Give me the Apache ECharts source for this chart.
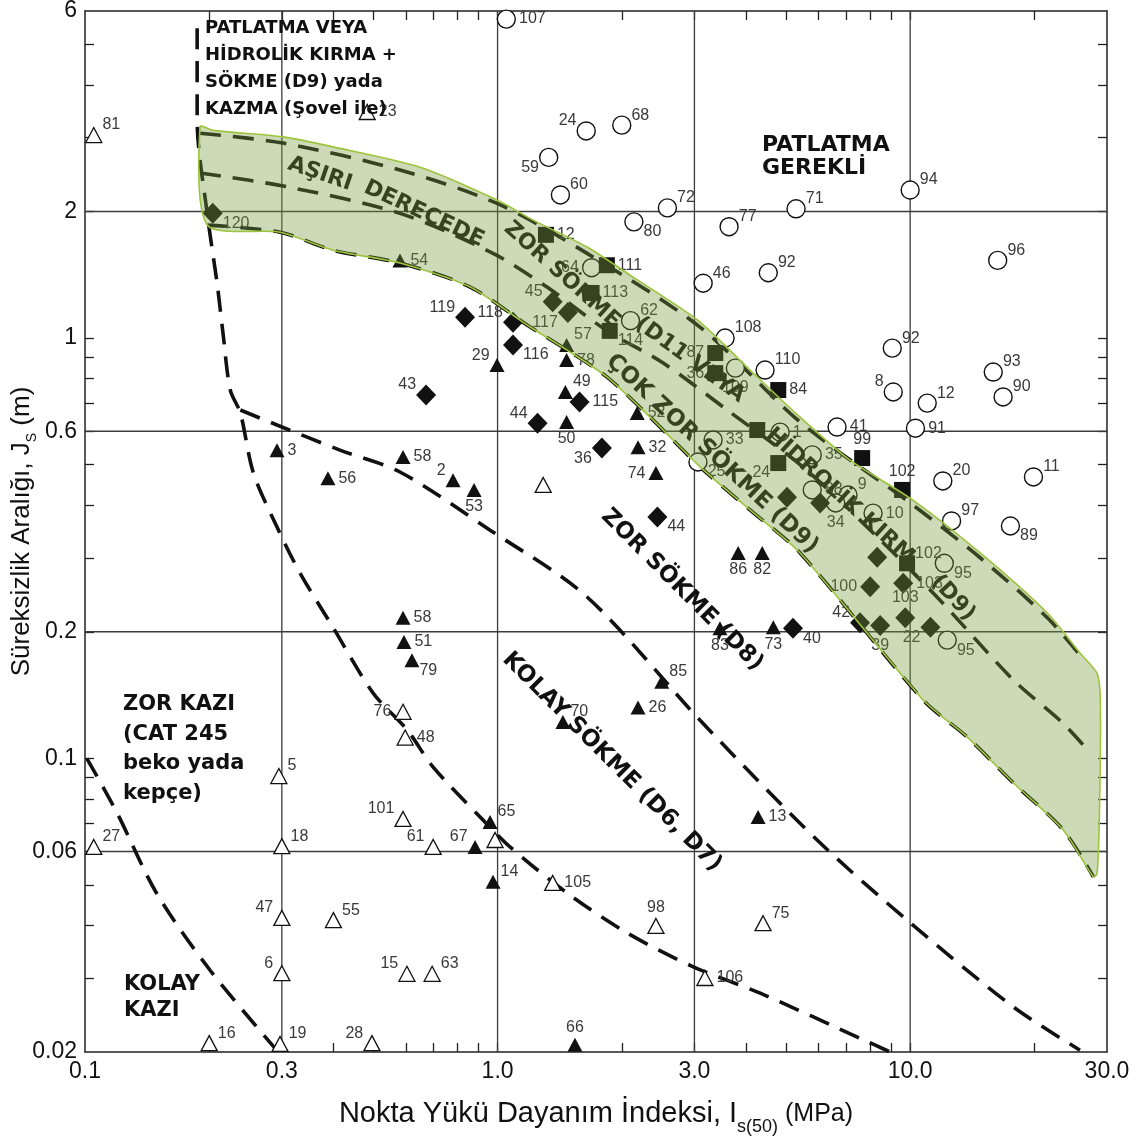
<!DOCTYPE html>
<html>
<head>
<meta charset="utf-8">
<script src="https://cdn.jsdelivr.net/npm/echarts@6/dist/echarts.min.js"></script>
<style>
html,body{margin:0;padding:0;background:#fff;}
#chart{width:1147px;height:1148px;}
</style>
</head>
<body>
<div id="chart"></div>
<script>
// ---- axes -------------------------------------------------------------
const xRange = [0.1, 30];
const yRange = [0.02, 6];
const xLabelValues = [0.1, 0.3, 1, 3, 10, 30];
const xLabelTexts  = ['0.1', '0.3', '1.0', '3.0', '10.0', '30.0'];
const yLabelValues = [0.02, 0.06, 0.1, 0.2, 0.6, 1, 2, 6];
const yLabelTexts  = ['0.02', '0.06', '0.1', '0.2', '0.6', '1', '2', '6'];
const xTickValues = [0.2, 0.3, 0.4, 0.5, 0.6, 0.7, 0.8, 0.9, 1, 2, 3, 4, 5, 6, 7, 8, 9, 10, 20];
const yTickValues = [0.03, 0.04, 0.05, 0.06, 0.07, 0.08, 0.09, 0.1, 0.2, 0.3, 0.4, 0.5, 0.6, 0.7, 0.8, 0.9, 1, 2, 3, 4, 5];
const xGridValues = [0.3, 1, 3, 10];
const yGridValues = [0.06, 0.2, 0.6, 2];

// ---- boundary curves [Is(50), Js] --------------------------------------
const curveSteep = [[0.187,5.46],[0.187,3.30],[0.198,1.96],[0.209,1.351],[0.216,1.027],[0.225,0.752],[0.238,0.663],[0.256,0.477],[0.292,0.355],[0.332,0.276],[0.399,0.205],[0.499,0.143],[0.603,0.117],[0.698,0.0953],[0.922,0.0713],[1.072,0.0615],[1.474,0.0478],[2.06,0.0384],[2.98,0.0319],[4.33,0.0276],[7.69,0.0214],[8.94,0.02]];
const curveD8 = [[0.238,0.674],[0.292,0.621],[0.415,0.541],[0.580,0.480],[0.959,0.349],[1.648,0.242],[3.10,0.123],[5.95,0.0639],[10,0.0406],[17.8,0.0256],[25.8,0.0202]];
const curveDigging = [[0.101,0.1],[0.1196,0.0741],[0.149,0.0478],[0.201,0.0313],[0.294,0.02]];
const curveD9Lower = [[0.198,1.856],[0.297,1.786],[0.399,1.618],[0.580,1.508],[0.858,1.322],[1.199,1.062],[1.474,0.936],[1.843,0.807],[2.343,0.648],[3.10,0.493],[4.09,0.390],[5.41,0.308],[10.75,0.1376],[13.75,0.1123],[17.8,0.0873],[23.5,0.0675],[27.8,0.0522]];
const curveD11 = [[0.190,2.47],[0.309,2.29],[0.580,1.98],[0.975,1.59],[1.32,1.32],[1.843,1.04],[2.52,0.872],[3.60,0.674],[5.50,0.493],[8.46,0.331],[11.8,0.238],[17.8,0.1535],[23.5,0.121],[27.3,0.103]];
const curveBlast = [[0.190,3.07],[0.302,2.91],[0.580,2.51],[0.997,2.09],[1.648,1.59],[3.10,1.06],[5.41,0.631],[10.17,0.40],[14.78,0.30],[21.5,0.216],[25.8,0.176]];
const bandUpper = [[0.190,3.18],[0.204,3.12],[0.302,3.01],[0.399,2.85],[0.649,2.55],[0.997,2.13],[1.219,1.908],[1.648,1.646],[2.13,1.396],[3.05,1.104],[4.09,0.839],[5.41,0.648],[7.15,0.512],[10.17,0.411],[14.78,0.308],[21.5,0.2216],[25.8,0.178],[28.4,0.159],[28.9,0.1376],[28.8,0.0796],[28.4,0.0533]];

// ---- observations -----------------------------------------------------
// open circles
const circleId = ['107','24','68','59','60','72','80','77','71','94','96','46','92','64','108','110','109','92','93','90','8','12','91','41','1','33','25','35','88','9','10','34','20','11','97','89','95','95','62'];
const circleI  = [1.05,1.64,2.0,1.33,1.42,2.58,2.14,3.64,5.29,10.0,16.3,3.15,4.53,1.69,3.56,4.45,3.77,9.05,15.9,16.8,9.1,11.0,10.3,6.65,4.84,3.33,3.06,5.79,5.79,7.07,8.13,6.6,12.0,19.9,12.6,17.5,12.1,12.3,2.10];
const circleJ  = [5.74,3.11,3.21,2.69,2.19,2.04,1.89,1.84,2.03,2.25,1.53,1.35,1.43,1.47,1.00,0.839,0.848,0.946,0.83,0.724,0.744,0.70,0.61,0.614,0.597,0.572,0.507,0.527,0.435,0.423,0.383,0.405,0.457,0.467,0.367,0.357,0.291,0.191,1.10];
// filled squares
const squareId = ['12','111','113','114','87','36','84','','24','99','102','102'];
const squareI  = [1.31,1.84,1.69,1.87,3.37,3.37,4.79,4.26,4.79,7.65,9.56,9.83];
const squareJ  = [1.76,1.49,1.28,1.04,0.921,0.825,0.752,0.604,0.504,0.518,0.435,0.291];
// filled diamonds
const diamondId = ['120','119','118','116','45','117','43','44','115','36','44','40','','','','100','103','42','39','103','22'];
const diamondI  = [0.204,0.834,1.09,1.09,1.36,1.48,0.671,1.25,1.58,1.79,2.44,5.2,5.03,6.05,8.32,8.0,9.62,7.56,8.46,9.73,11.2];
const diamondJ  = [1.98,1.12,1.09,0.962,1.22,1.15,0.732,0.627,0.704,0.547,0.375,0.204,0.418,0.405,0.301,0.256,0.261,0.21,0.207,0.216,0.205];
// filled triangles
const triId = ['54','3','56','58','2','53','29','57','78','49','50','52','32','74','86','82','83','73','58','51','79','85','26','70','13','65','67','14','66'];
const triI  = [0.58,0.292,0.388,0.59,0.78,0.877,0.997,1.47,1.47,1.46,1.47,2.18,2.19,2.42,3.83,4.38,3.46,4.66,0.59,0.593,0.62,2.5,2.19,1.44,4.28,0.959,0.882,0.975,1.54];
const triJ  = [1.53,0.541,0.464,0.521,0.459,0.435,0.862,0.962,0.886,0.744,0.631,0.663,0.55,0.477,0.308,0.308,0.204,0.205,0.216,0.189,0.171,0.152,0.132,0.122,0.0725,0.0705,0.0615,0.0508,0.0208];
// open triangles
const openTriId = ['81','23','','76','48','5','101','27','18','61','','105','47','55','98','75','6','15','63','106','16','19','28'];
const openTriI  = [0.105,0.483,1.29,0.59,0.597,0.295,0.59,0.105,0.30,0.698,0.986,1.36,0.30,0.40,2.42,4.40,0.30,0.603,0.694,3.18,0.20,0.297,0.496];
const openTriJ  = [3.04,3.45,0.447,0.129,0.112,0.0907,0.0717,0.0615,0.0618,0.0615,0.0639,0.0505,0.0417,0.0412,0.0399,0.0405,0.0308,0.0307,0.0307,0.030,0.021,0.0209,0.021];

// where each number sits next to its symbol
const circleLabelAt  = ['r','tl','tr','bl','tr','tr','br','tr','tr','tr','tr','tr','tr','l','tr','tr','b','tr','tr','tr','tl','tr','r','r','r','r','br','r','r','tr','r','b','tr','tr','tr','br','br','br','tr'];
const squareLabelAt  = ['r','r','r','br','l','l','r','-','bl','t','t','tr'];
const diamondLabelAt = ['br','tl','tl','br','tl','bl','tl','tl','r','bl','br','br','-','-','-','l','r','tl','b','t','bl'];
const triLabelAt     = ['r','r','r','r','tl','b','tl','tr','r','tr','b','r','r','l','b','b','b','b','r','r','br','tr','r','tr','r','tr','tl','tr','t'];
const openTriLabelAt = ['tr','r','-','l','r','tr','tl','tr','tr','tl','-','r','tl','tr','t','tr','tl','tl','tr','r','tr','tr','tl'];

// ---- helpers ----------------------------------------------------------
const lg = v => Math.log10(v);
const toLog = arr => arr.map(p => [lg(p[0]), lg(p[1])]);

function labelFor(side) {
  const base = { show: true, formatter: '{b}', fontSize: 16, color: '#3a3a3a', fontFamily: 'Liberation Sans, Arial, sans-serif' };
  switch (side) {
    case 'r':  return Object.assign(base, { position: 'right', distance: 3 });
    case 'l':  return Object.assign(base, { position: 'left', distance: 3 });
    case 't':  return Object.assign(base, { position: 'top', distance: 2 });
    case 'b':  return Object.assign(base, { position: 'bottom', distance: 2 });
    case 'tr': return Object.assign(base, { position: 'right', distance: 0, offset: [0, -10] });
    case 'tl': return Object.assign(base, { position: 'left', distance: 0, offset: [0, -10] });
    case 'br': return Object.assign(base, { position: 'right', distance: 0, offset: [0, 10] });
    case 'bl': return Object.assign(base, { position: 'left', distance: 0, offset: [0, 10] });
    default:   return { show: false };
  }
}

function pointData(ids, xs, ys, sides) {
  return ids.map((id, i) => ({ name: id, value: [lg(xs[i]), lg(ys[i])], label: labelFor(sides[i]) }));
}

function dashed(data) {
  return {
    type: 'line', data: toLog(data), symbol: 'none', smooth: 0.3, silent: true, z: 2,
    lineStyle: { color: '#111', width: 3.6, type: [21, 12] }
  };
}

function pickLabel(values, texts) {
  return v => {
    for (let i = 0; i < values.length; i++) if (Math.abs(lg(values[i]) - v) < 1e-6) return texts[i];
    return '';
  };
}

// ---- grid lines -------------------------------------------------------
const gridSeries = [];
xGridValues.forEach(v => gridSeries.push({
  type: 'line', data: [[lg(v), lg(yRange[0])], [lg(v), lg(yRange[1])]], symbol: 'none', silent: true, z: 1,
  lineStyle: { color: '#3c3c3c', width: 1.3 }
}));
yGridValues.forEach(v => gridSeries.push({
  type: 'line', data: [[lg(xRange[0]), lg(v)], [lg(xRange[1]), lg(v)]], symbol: 'none', silent: true, z: 1,
  lineStyle: { color: '#3c3c3c', width: 1.3 }
}));

// ---- ripping band (translucent green laid over the marks) ---------------
const bandPolygon = bandUpper.concat(curveD9Lower.slice().reverse());

const tickStyle = { show: true, inside: true, length: 9, lineStyle: { color: '#222', width: 1.3 } };
const axisFont = { fontSize: 23, color: '#111', fontFamily: 'Liberation Sans, Arial, sans-serif' };
const frameLine = { show: true, onZero: false, lineStyle: { color: '#222', width: 1.5 } };

const xAxisBase = {
  type: 'value', min: lg(xRange[0]), max: lg(xRange[1]),
  splitLine: { show: false },
  axisLine: frameLine,
  axisTick: Object.assign({ customValues: xTickValues.map(lg) }, tickStyle)
};
const yAxisBase = {
  type: 'value', min: lg(yRange[0]), max: lg(yRange[1]),
  splitLine: { show: false },
  axisLine: frameLine,
  axisTick: Object.assign({ customValues: yTickValues.map(lg) }, tickStyle)
};

const boldFont = size => 'bold ' + size + 'px "DejaVu Sans", sans-serif';
const deg = d => -d * Math.PI / 180;
function note(text, x, y, size, angle) {
  return {
    type: 'text', x: x, y: y, rotation: deg(angle || 0), z: 4,
    style: { text: text, font: boldFont(size), fill: '#111', align: 'center', verticalAlign: 'middle' }
  };
}
function block(text, x, y, size, lineHeight) {
  return {
    type: 'text', x: x, y: y, z: 4,
    style: { text: text, font: boldFont(size), fill: '#111', align: 'left', verticalAlign: 'top', lineHeight: lineHeight }
  };
}

const option = {
  animation: false,
  backgroundColor: '#fff',
  grid: { left: 85, right: 40, top: 11, bottom: 96, containLabel: false, outerBoundsMode: 'none' },
  xAxis: [
    Object.assign({}, xAxisBase, {
      position: 'bottom',
      axisLabel: Object.assign({ customValues: xLabelValues.map(lg), margin: 8, formatter: pickLabel(xLabelValues, xLabelTexts) }, axisFont),
      name: '{a|Nokta Yükü Dayanım İndeksi, I}{s|s(50)}{m| (MPa)}',
      nameLocation: 'middle', nameGap: 40, nameMoveOverlap: false,
      nameTextStyle: {
        rich: {
          a: { fontSize: 29, color: '#111', fontFamily: 'Liberation Sans, Arial, sans-serif', lineHeight: 44, verticalAlign: 'middle' },
          s: { fontSize: 18, color: '#111', fontFamily: 'Liberation Sans, Arial, sans-serif', lineHeight: 44, verticalAlign: 'bottom' },
          m: { fontSize: 25, color: '#111', fontFamily: 'Liberation Sans, Arial, sans-serif', lineHeight: 44, verticalAlign: 'middle' }
        }
      }
    }),
    Object.assign({}, xAxisBase, { position: 'top', axisLabel: { show: false } })
  ],
  yAxis: [
    Object.assign({}, yAxisBase, {
      position: 'left',
      axisLabel: Object.assign({ customValues: yLabelValues.map(lg), margin: 8, formatter: pickLabel(yLabelValues, yLabelTexts) }, axisFont),
      name: '{a|Süreksizlik Aralığı, J}{s|S}{a| (m)}',
      nameLocation: 'middle', nameGap: 46, nameMoveOverlap: false,
      nameTextStyle: {
        rich: {
          a: { fontSize: 26, color: '#111', fontFamily: 'Liberation Sans, Arial, sans-serif', lineHeight: 34, verticalAlign: 'middle' },
          s: { fontSize: 14, color: '#111', fontFamily: 'Liberation Sans, Arial, sans-serif', lineHeight: 34, verticalAlign: 'bottom' }
        }
      }
    }),
    Object.assign({}, yAxisBase, { position: 'right', axisLabel: { show: false } })
  ],
  series: gridSeries.concat([
    dashed(curveSteep),
    dashed(curveD8),
    dashed(curveDigging),
    dashed(curveD9Lower),
    dashed(curveD11),
    dashed(curveBlast),
    {
      type: 'scatter', z: 3, symbol: 'circle', symbolSize: 18,
      itemStyle: { color: '#fff', borderColor: '#111', borderWidth: 1.4, opacity: 1 },
      data: pointData(circleId, circleI, circleJ, circleLabelAt)
    },
    {
      type: 'scatter', z: 3, symbol: 'rect', symbolSize: 16,
      itemStyle: { color: '#111', opacity: 1 },
      data: pointData(squareId, squareI, squareJ, squareLabelAt)
    },
    {
      type: 'scatter', z: 3, symbol: 'diamond', symbolSize: [20, 21],
      itemStyle: { color: '#111', opacity: 1 },
      data: pointData(diamondId, diamondI, diamondJ, diamondLabelAt)
    },
    {
      type: 'scatter', z: 3, symbol: 'triangle', symbolSize: [15, 14],
      itemStyle: { color: '#111', opacity: 1 },
      data: pointData(triId, triI, triJ, triLabelAt)
    },
    {
      type: 'scatter', z: 3, symbol: 'triangle', symbolSize: [16, 15],
      itemStyle: { color: '#fff', borderColor: '#111', borderWidth: 1.3, opacity: 1 },
      data: pointData(openTriId, openTriI, openTriJ, openTriLabelAt)
    },
    {
      type: 'custom', z: 10, silent: true, coordinateSystem: 'cartesian2d',
      data: [[0, 0]],
      renderItem: function (params, api) {
        return {
          type: 'polygon',
          shape: { points: toLog(bandPolygon).map(p => api.coord(p)), smooth: 0.25 },
          style: { fill: 'rgba(118,154,60,0.37)', stroke: '#9cc43c', lineWidth: 1.6 }
        };
      }
    }
  ]),
  graphic: {
    elements: [
      block('PATLATMA VEYA\nHİDROLİK KIRMA +\nSÖKME (D9) yada\nKAZMA (Şovel ile)', 205, 15, 18, 27),
      block('PATLATMA\nGEREKLİ', 762, 134, 22, 23),
      block('ZOR KAZI\n(CAT 245\nbeko yada\nkepçe)', 123, 690, 21, 29.5),
      block('KOLAY\nKAZI', 124, 972, 21, 26),
      note('AŞIRI', 320, 174, 22, 19),
      note('DERECEDE', 424, 214, 22, 25),
      note('ZOR SÖKME', 562, 275, 22, 42),
      note('(D11 VEYA', 690, 360, 22, 36),
      note('HİDROLİK KIRM', 840, 496, 22, 42),
      note('(D9)', 953, 598, 22, 47),
      note('ÇOK ZOR SÖKME (D9)', 712, 454, 23, 43),
      note('ZOR SÖKME (D8)', 682, 590, 23, 45),
      note('KOLAY SÖKME (D6, D7)', 612, 762, 23, 45)
    ]
  }
};

const chart = echarts.init(document.getElementById('chart'), null, { renderer: 'canvas' });
chart.setOption(option);
</script>
</body>
</html>
